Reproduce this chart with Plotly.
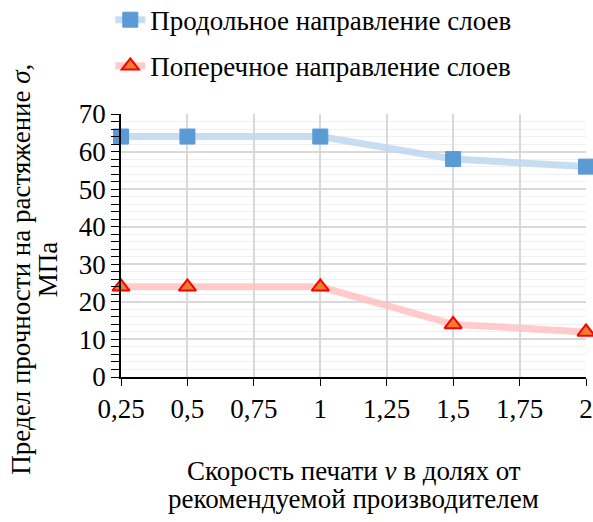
import plotly.graph_objects as go

# Print speed as a fraction of the manufacturer's recommended value
speed = [0.25, 0.5, 1, 1.5, 2]
# Ultimate tensile strength, MPa
along_layers = [64, 64, 64, 58, 56]
across_layers = [24, 24, 24, 14, 12]

x_ticks = [0.25, 0.5, 0.75, 1, 1.25, 1.5, 1.75, 2]
x_tick_text = ["0,25", "0,5", "0,75", "1", "1,25", "1,5", "1,75", "2"]

x_title_lines = ["Скорость печати <i>v</i> в долях от", "рекомендуемой производителем"]
y_title_lines = ["Предел прочности на растяжение <i>σ</i>,", "МПа"]

FONT = "Liberation Serif"
FS = 27

fig = go.Figure()
fig.add_trace(go.Scatter(
    x=speed, y=along_layers, mode="lines+markers",
    name="Продольное направление слоев", legendgroup="a",
    line=dict(color="rgba(189,215,238,0.85)", width=7),
    marker=dict(symbol="square", size=15, color="#5b9bd5",
                line=dict(color="#5b9bd5", width=1)),
    cliponaxis=False,
))
fig.add_trace(go.Scatter(
    x=speed, y=across_layers, mode="lines+markers",
    name="Поперечное направление слоев", legendgroup="b",
    line=dict(color="rgba(255,190,190,0.8)", width=7),
    marker=dict(symbol="triangle-up", size=15, color="#ed7d31",
                line=dict(color="#ff0000", width=2)),
    cliponaxis=False,
))

# Axis titles, line by line, for tight line spacing
for text, y in zip(x_title_lines, [-0.357, -0.465]):
    fig.add_annotation(text=text, xref="paper", yref="paper", x=0.5, y=y,
                       xanchor="center", yanchor="middle", showarrow=False,
                       font=dict(family=FONT, size=FS, color="black"))
for text, x in zip(y_title_lines, [-0.214, -0.157]):
    fig.add_annotation(text=text, xref="paper", yref="paper", x=x, y=0.41,
                       xanchor="center", yanchor="middle", showarrow=False,
                       textangle=-90,
                       font=dict(family=FONT, size=FS, color="black"))

fig.update_layout(
    width=593, height=522,
    margin=dict(l=121, r=7, t=114, b=145, autoexpand=False),
    paper_bgcolor="white", plot_bgcolor="white",
    font=dict(family=FONT, size=FS, color="black"),
    showlegend=True,
    legend=dict(
        x=-0.023, y=1.45, xanchor="left", yanchor="top",
        font=dict(family=FONT, size=FS, color="black"),
        tracegroupgap=8,
        bgcolor="rgba(0,0,0,0)",
    ),
    xaxis=dict(
        range=[0.25, 2], tickvals=x_ticks, ticktext=x_tick_text,
        showline=True, linecolor="black", linewidth=1.5,
        ticks="outside", ticklen=7, tickcolor="black",
        showgrid=True, gridcolor="#d9d9d9", gridwidth=1.5,
        zeroline=False,
        tickfont=dict(family=FONT, size=FS),
    ),
    yaxis=dict(
        range=[0, 70], dtick=10,
        showline=True, linecolor="black", linewidth=1.5,
        ticks="outside", ticklen=8, tickcolor="black",
        showgrid=True, gridcolor="#d9d9d9", gridwidth=1.5,
        zeroline=False,
        minor=dict(dtick=2, ticks="outside", ticklen=8, tickcolor="black",
                   showgrid=True, gridcolor="#f0f0f0", gridwidth=1),
        tickfont=dict(family=FONT, size=FS),
    ),
)

fig.write_html("out.html")
